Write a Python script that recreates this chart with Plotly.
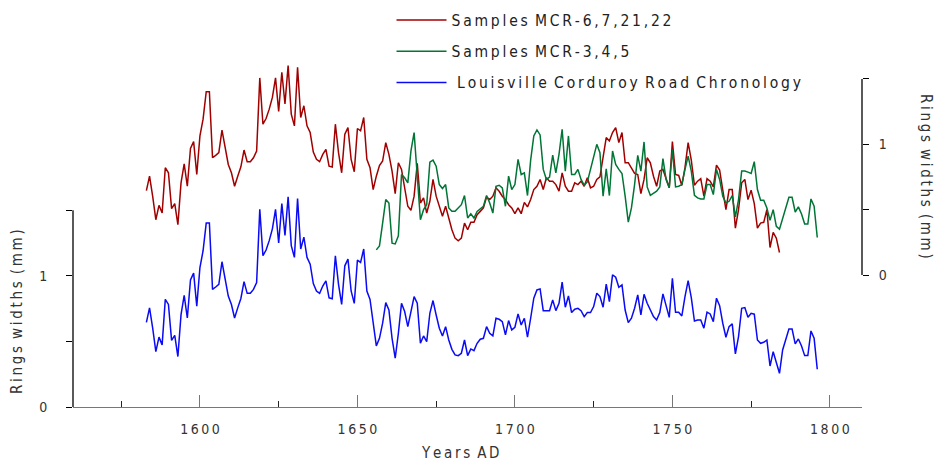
import plotly.graph_objects as go

# ---------------- data (ring widths, mm) ----------------
red_name = "Samples MCR-6,7,21,22"
green_name = "Samples MCR-3,4,5"
blue_name = "Louisville Corduroy Road Chronology"

red_start = 1583
red_vals = [
    0.646, 0.756, 0.602, 0.423, 0.533, 0.474, 0.821, 0.782, 0.508, 0.546,
    0.385, 0.705, 0.851, 0.679, 0.969, 1.021, 0.769, 1.064, 1.192, 1.403,
    1.403, 0.897, 0.915, 0.936, 1.108, 0.962, 0.846, 0.782, 0.679, 0.756,
    0.828, 0.956, 0.867, 0.867, 0.897, 0.949, 1.508, 1.154, 1.197, 1.269,
    1.359, 1.508, 1.251, 1.551, 1.308, 1.603, 1.231, 1.141, 1.590, 1.205,
    1.295, 1.141, 1.090, 0.941, 0.885, 0.867, 0.923, 0.962, 0.833, 0.826,
    1.154, 0.936, 0.782, 1.077, 1.128, 0.885, 0.790, 1.121, 1.103, 1.205,
    0.885, 0.821, 0.654, 0.756, 0.838, 0.872, 1.013, 0.923, 0.795, 0.623,
    0.859, 0.808, 0.654, 0.526, 0.495, 0.603, 0.854, 0.551, 0.590, 0.474,
    0.564, 0.731, 0.603, 0.526, 0.449, 0.526, 0.436, 0.346, 0.282, 0.262,
    0.282, 0.397, 0.346, 0.403, 0.403, 0.462, 0.487, 0.513, 0.597, 0.577,
    0.603, 0.667, 0.641, 0.603, 0.577, 0.538, 0.513, 0.469, 0.513, 0.469,
    0.556, 0.521, 0.577, 0.654, 0.679, 0.731, 0.654, 0.744, 0.718, 0.718,
    0.692, 0.641, 0.782, 0.679, 0.641, 0.641, 0.705, 0.692, 0.718, 0.679,
    0.744, 0.667, 0.679, 0.731, 0.751, 0.910, 1.051, 1.026, 1.090, 1.128,
    1.013, 1.090, 0.859, 0.859, 0.821, 0.777, 0.769, 0.623, 0.731, 0.897,
    0.859, 0.756, 0.679, 0.795, 0.808, 0.731, 0.667, 1.021, 0.769, 0.762,
    0.685, 0.821, 1.013, 0.879, 0.687, 0.718, 0.738, 0.603, 0.738, 0.718,
    0.674, 0.841, 0.803, 0.649, 0.500, 0.654, 0.654, 0.359, 0.500, 0.705,
    0.731, 0.577, 0.649, 0.546, 0.359, 0.397, 0.403, 0.500, 0.210, 0.326,
    0.282, 0.172,
]

green_start = 1656
green_vals = [
    0.192, 0.223, 0.397, 0.577, 0.551, 0.244, 0.238, 0.300, 0.769, 0.744,
    0.705, 0.949, 1.090, 0.744, 0.423, 0.500, 0.538, 0.864, 0.879, 0.833,
    0.692, 0.662, 0.692, 0.513, 0.487, 0.487, 0.513, 0.538, 0.608, 0.436,
    0.469, 0.436, 0.487, 0.505, 0.526, 0.608, 0.551, 0.474, 0.679, 0.687,
    0.667, 0.526, 0.756, 0.654, 0.692, 0.885, 0.769, 0.782, 0.608, 0.879,
    1.064, 1.110, 1.072, 0.808, 0.731, 0.749, 0.918, 0.782, 0.923, 1.115,
    0.795, 1.064, 0.769, 0.769, 0.808, 0.731, 0.687, 0.713, 0.808, 0.885,
    1.000, 0.936, 0.603, 0.813, 0.608, 0.949, 0.846, 0.808, 0.777, 0.603,
    0.405, 0.513, 0.692, 0.915, 0.795, 1.018, 0.674, 0.610, 0.628, 0.641,
    0.674, 0.890, 0.731, 0.667, 0.962, 0.674, 0.679, 0.692, 0.808, 0.910,
    0.795, 0.610, 0.590, 0.582, 0.582, 0.692, 0.692, 0.615, 0.808, 0.731,
    0.603, 0.551, 0.564, 0.608, 0.444, 0.577, 0.795, 0.795, 0.787, 0.777,
    0.867, 0.654, 0.572, 0.572, 0.513, 0.418, 0.500, 0.372, 0.351, 0.428,
    0.521, 0.595, 0.595, 0.482, 0.521, 0.467, 0.390, 0.390, 0.582, 0.526,
    0.287,
]

blue_start = 1583
blue_vals = [
    0.646, 0.756, 0.602, 0.423, 0.533, 0.474, 0.821, 0.782, 0.508, 0.546,
    0.385, 0.705, 0.851, 0.679, 0.969, 1.021, 0.769, 1.064, 1.192, 1.403,
    1.403, 0.897, 0.915, 0.936, 1.108, 0.962, 0.846, 0.782, 0.679, 0.756,
    0.828, 0.956, 0.867, 0.867, 0.897, 0.949, 1.508, 1.154, 1.197, 1.269,
    1.359, 1.508, 1.251, 1.551, 1.308, 1.603, 1.231, 1.141, 1.590, 1.205,
    1.295, 1.141, 1.090, 0.941, 0.885, 0.867, 0.923, 0.962, 0.833, 0.826,
    1.154, 0.936, 0.782, 1.077, 1.128, 0.885, 0.790, 1.121, 1.103, 1.205,
    0.885, 0.821, 0.654,
    0.466, 0.524, 0.639, 0.796, 0.740, 0.524, 0.372, 0.562, 0.791, 0.728,
    0.613, 0.728, 0.842, 0.791, 0.486, 0.542, 0.499, 0.715, 0.812, 0.702,
    0.601, 0.542, 0.613, 0.511, 0.440, 0.397, 0.392, 0.410, 0.511, 0.392,
    0.443, 0.430, 0.486, 0.517, 0.524, 0.613, 0.562, 0.542, 0.677, 0.669,
    0.651, 0.550, 0.659, 0.588, 0.608, 0.710, 0.626, 0.677, 0.532, 0.677,
    0.830, 0.893, 0.901, 0.735, 0.735, 0.735, 0.817, 0.735, 0.791, 0.952,
    0.761, 0.847, 0.720, 0.746, 0.753, 0.735, 0.689, 0.720, 0.720, 0.766,
    0.868, 0.842, 0.761, 0.937, 0.804, 1.008, 0.990, 0.913, 0.931, 0.740,
    0.644, 0.677, 0.753, 0.855, 0.702, 0.860, 0.791, 0.735, 0.690, 0.664,
    0.720, 0.863, 0.766, 0.684, 0.982, 0.723, 0.723, 0.695, 0.842, 0.964,
    0.834, 0.656, 0.664, 0.664, 0.601, 0.723, 0.710, 0.651, 0.830, 0.773,
    0.639, 0.532, 0.613, 0.634, 0.405, 0.537, 0.753, 0.758, 0.684, 0.715,
    0.708, 0.511, 0.486, 0.494, 0.511, 0.313, 0.422, 0.334, 0.257, 0.435,
    0.524, 0.595, 0.595, 0.481, 0.519, 0.466, 0.392, 0.392, 0.580, 0.524,
    0.288,
]

x_tick_vals = [1600, 1650, 1700, 1750, 1800]
x_tick_labels = ["1600", "1650", "1700", "1750", "1800"]
x_minor_vals = [1575, 1625, 1675, 1725, 1775]
y_tick_vals = [0, 0.5, 1, 1.5]
y_tick_labels = ["0", "", "1", ""]

x_title = "Years AD"
y_title = "Rings widths (mm)"


# ---------------- helpers ----------------
def spaced(text):
    """Letter-spaced rendering of a text (thin spaces between letters)."""
    return " \u2009".join("\u2009".join(word) for word in text.split(" "))


FONT = "Liberation Sans Narrow, DejaVu Sans Condensed, Liberation Sans, Arial, sans-serif"
RED = "#A00000"
GREEN = "#007536"
BLUE = "#0A0AF5"
TXT = "#333333"

red_years = list(range(red_start, red_start + len(red_vals)))
green_years = list(range(green_start, green_start + len(green_vals)))
blue_years = list(range(blue_start, blue_start + len(blue_vals)))

fig = go.Figure()
fig.add_trace(go.Scatter(x=red_years, y=red_vals, mode="lines", name=spaced(red_name),
                         line=dict(color=RED, width=1.5), yaxis="y2", legendgroup="a"))
fig.add_trace(go.Scatter(x=green_years, y=green_vals, mode="lines", name=spaced(green_name),
                         line=dict(color=GREEN, width=1.5), yaxis="y2", legendgroup="b"))
fig.add_trace(go.Scatter(x=blue_years, y=blue_vals, mode="lines",
                         name="\u2009\u2009" + spaced(blue_name),
                         line=dict(color=BLUE, width=1.5), yaxis="y", legendgroup="c"))

tickfont = dict(family=FONT, size=14, color=TXT)
titlefont = dict(family=FONT, size=15, color=TXT)

fig.update_layout(
    width=939, height=465,
    margin=dict(l=73, r=77, t=0, b=58),
    paper_bgcolor="white", plot_bgcolor="white",
    font=dict(family=FONT, color="#222222"),
    showlegend=True,
    legend=dict(x=0.4037, y=0.9914, xanchor="left", yanchor="top",
                bgcolor="rgba(0,0,0,0)", borderwidth=0,
                font=dict(family=FONT, size=15.5, color="#222222"),
                tracegroupgap=8, itemwidth=50),
    xaxis=dict(range=[1559.7, 1810.2], showline=True, linecolor="#777777", linewidth=1.3,
               showgrid=False, zeroline=False,
               tickmode="array", tickvals=x_tick_vals,
               ticktext=[spaced(t) for t in x_tick_labels],
               ticks="inside", ticklen=12, tickcolor="#777777", tickwidth=1.3,
               minor=dict(tickmode="array", tickvals=x_minor_vals, ticks="inside",
                          ticklen=6, tickcolor="#222222", tickwidth=1),
               tickfont=tickfont, ticklabelstandoff=9),
    yaxis=dict(range=[0, 3.1045], showline=False, showgrid=False, zeroline=False,
               tickmode="array", tickvals=y_tick_vals, ticktext=y_tick_labels,
               ticks="outside", ticklen=6, tickcolor="#000000", tickwidth=1.2,
               tickfont=tickfont, ticklabelstandoff=16),
    yaxis2=dict(range=[-1.0099, 2.1041], overlaying="y", side="right",
                showline=False, showgrid=False, zeroline=False,
                tickmode="array", tickvals=y_tick_vals, ticktext=y_tick_labels,
                ticks="outside", ticklen=6, tickcolor="#000000", tickwidth=1.2,
                tickfont=tickfont, ticklabelstandoff=7),
    shapes=[
        dict(type="line", xref="paper", yref="y", x0=0, x1=0, y0=0, y1=1.5,
             line=dict(color="#000000", width=1.3)),
        dict(type="line", xref="paper", yref="y2", x0=1, x1=1, y0=0, y1=1.5,
             line=dict(color="#000000", width=1.3)),
    ],
    annotations=[
        dict(text=spaced(y_title), xref="paper", yref="paper", x=-0.071, y=0.2359,
             textangle=-90, showarrow=False, xanchor="center", yanchor="middle",
             font=titlefont),
        dict(text=spaced(y_title), xref="paper", yref="paper", x=1.0811, y=0.5651,
             textangle=90, showarrow=False, xanchor="center", yanchor="middle",
             font=titlefont),
        dict(text=spaced(x_title), xref="paper", yref="paper", x=0.4905, y=-0.1130,
             showarrow=False, xanchor="center", yanchor="middle",
             font=titlefont),
    ],
)

fig.write_html("out.html", config={"displayModeBar": False},
               post_script="document.body.style.margin='0';document.body.style.padding='0';")
